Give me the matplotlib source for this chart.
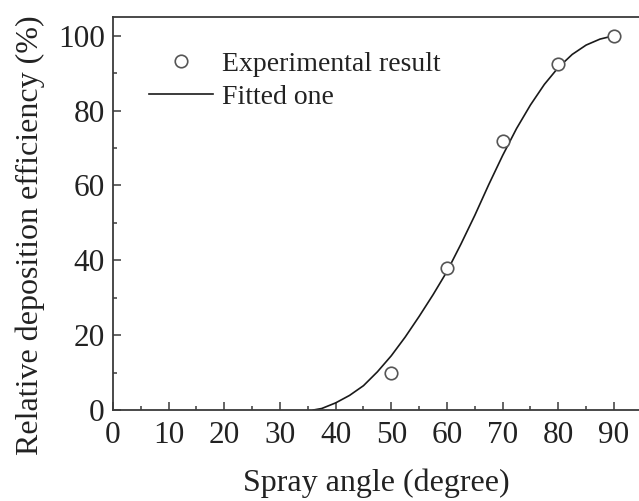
import numpy as np
import matplotlib
matplotlib.use("Agg")
import matplotlib.pyplot as plt
from matplotlib.ticker import MultipleLocator

# experimental points
exp_angle = [50, 60, 70, 80, 90]
exp_eff = [10.0, 37.9, 71.8, 92.4, 100.0]

# fitted curve
fit_angle = [36, 37.5, 40, 42.5, 45, 47.5, 50, 52.5, 55, 57.5, 60, 62.5, 65,
             67.5, 70, 72.5, 75, 77.5, 80, 82.5, 85, 87.5, 90]
fit_eff = [0.0, 0.4, 1.9, 3.9, 6.5, 10.2, 14.5, 19.5, 25.0, 30.8, 37.0, 44.3, 52.0,
           60.2, 68.0, 75.2, 81.5, 87.0, 91.5, 95.0, 97.5, 99.1, 100.0]

x_ticks = [0, 10, 20, 30, 40, 50, 60, 70, 80, 90]
y_ticks = [0, 20, 40, 60, 80, 100]

plt.rcParams["font.family"] = ["Liberation Serif", "DejaVu Serif"]
TXT = "#222222"
AXC = "#3a3a3a"

fig = plt.figure(figsize=(6.39, 5.01), dpi=100)
ax = fig.add_axes([113 / 639, 1 - 410 / 501, 1 - 113 / 639, (410 - 17) / 501])

ax.plot(fit_angle, fit_eff, color="#1a1a1a", lw=1.2, label="Fitted one", zorder=2)
ax.plot(exp_angle, exp_eff, ls="none", marker="o", ms=9, mfc="white",
        mec="#555555", mew=1.2, label="Experimental result", zorder=3)

ax.set_xlim(0, 94.5)
ax.set_ylim(0, 105)
ax.set_xticks(x_ticks)
ax.set_yticks(y_ticks)
ax.xaxis.set_minor_locator(MultipleLocator(5))
ax.yaxis.set_minor_locator(MultipleLocator(10))
ax.tick_params(which="both", direction="in", color=AXC, width=1.1,
               labelsize=22.5, labelcolor=TXT)
ax.tick_params(which="major", length=6)
ax.tick_params(which="minor", length=3)
ax.tick_params(axis="x", pad=8)
ax.tick_params(axis="y", pad=6)

for side in ("left", "bottom", "top"):
    ax.spines[side].set_color(AXC)
    ax.spines[side].set_linewidth(1.3)
ax.spines["right"].set_visible(False)

ax.set_xlabel("Spray angle (degree)", fontsize=23, color=TXT)
ax.set_ylabel("Relative deposition efficiency (%)", fontsize=23, color=TXT)
ax.xaxis.set_label_coords(0.5, -0.15)
ax.yaxis.set_label_coords(-0.13, 0.445)

h, l = ax.get_legend_handles_labels()
leg = ax.legend(h[::-1], l[::-1], loc="upper left", bbox_to_anchor=(0.048, 0.94),
                frameon=False, fontsize=20, handlelength=2.3, handletextpad=0.3,
                labelspacing=0.25, borderaxespad=0, numpoints=1)
for t in leg.get_texts():
    t.set_color(TXT)

fig.savefig("out.png", dpi=100)
